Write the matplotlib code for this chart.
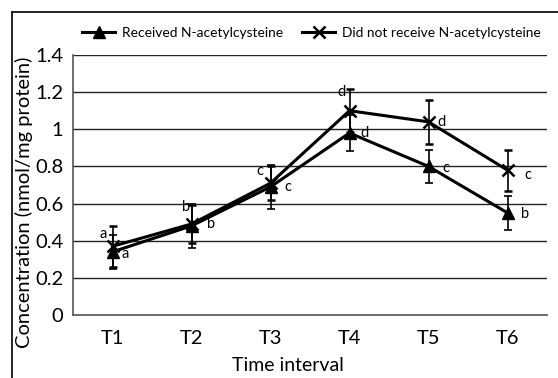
import matplotlib
matplotlib.use("Agg")
import matplotlib.pyplot as plt
from matplotlib.lines import Line2D
import numpy as np

plt.rcParams['font.family'] = ['Lato', 'DejaVu Sans']

times = ['T1', 'T2', 'T3', 'T4', 'T5', 'T6']
received = [0.34, 0.48, 0.69, 0.98, 0.80, 0.55]
received_err = [0.09, 0.12, 0.12, 0.095, 0.09, 0.09]
received_letters = ['a', 'b', 'c', 'd', 'c', 'b']
not_received = [0.37, 0.49, 0.71, 1.10, 1.04, 0.78]
not_received_err = [0.11, 0.10, 0.09, 0.115, 0.12, 0.11]
not_received_letters = ['a', 'b', 'c', 'd', 'd', 'c']

# letter offsets in pixels (dx, dy) relative to the marker
rec_off = [(13, -2), (20, 2), (17, 0), (15, 0), (17, -2), (18, -1)]
nrec_off = [(-9, 12), (-5, 17), (-11, 12), (-8, 19), (13, 0), (20, -5)]

fig = plt.figure(figsize=(5.58, 3.78), dpi=100)
ax = fig.add_axes([73 / 558, 1 - 315 / 378, (547 - 73) / 558, (315 - 55) / 378])

x = np.arange(len(times))
ax.errorbar(x, received, yerr=received_err, color='black', lw=2.2, marker='^',
            ms=8, capsize=3, elinewidth=1.2, capthick=1.2, zorder=3)
ax.errorbar(x, not_received, yerr=not_received_err, color='black', lw=2.2, marker='x',
            ms=8, mew=1.8, capsize=3, elinewidth=1.2, capthick=1.2, zorder=3)

for i in range(len(times)):
    ax.annotate(received_letters[i], (x[i], received[i]),
                xytext=(rec_off[i][0] * 0.72, rec_off[i][1] * 0.72), textcoords='offset points',
                ha='center', va='center', fontsize=10.5)
    ax.annotate(not_received_letters[i], (x[i], not_received[i]),
                xytext=(nrec_off[i][0] * 0.72, nrec_off[i][1] * 0.72), textcoords='offset points',
                ha='center', va='center', fontsize=10.5)

ax.set_xlim(-0.5, len(times) - 0.5)
ax.set_ylim(0, 1.4)
ax.set_yticks([0, 0.2, 0.4, 0.6, 0.8, 1.0, 1.2, 1.4])
ax.set_yticklabels(['0', '0.2', '0.4', '0.6', '0.8', '1', '1.2', '1.4'])
ax.set_xticks(x)
ax.set_xticklabels(times)
ax.tick_params(length=0, labelsize=14.5)
ax.tick_params(axis='y', pad=7)
ax.tick_params(axis='x', pad=11)
ax.yaxis.grid(True, color='#222222', lw=1.0)
ax.set_axisbelow(True)
for s in ['top', 'right']:
    ax.spines[s].set_visible(False)
for s in ['left', 'bottom']:
    ax.spines[s].set_color('#555555')
    ax.spines[s].set_linewidth(1.2)

ax.set_xlabel('Time interval', fontsize=14)
ax.set_ylabel('Concentration (nmol/mg protein)', fontsize=14.5)
ax.xaxis.set_label_coords((288 - 73) / 474, -(357 - 315) / 260)
ax.yaxis.set_label_coords((33 - 73) / 474, (315 - 202) / 260)

handles = [Line2D([], [], color='black', lw=2.2, marker='^', ms=8),
           Line2D([], [], color='black', lw=2.2, marker='x', ms=8, mew=1.8)]
fig.legend(handles, ['Received N-acetylcysteine', 'Did not receive N-acetylcysteine'],
           loc='center left', bbox_to_anchor=(82 / 558, 1 - 33 / 378), ncol=2,
           frameon=False, fontsize=9.9, handlelength=2.4, handletextpad=0.5,
           columnspacing=1.4, borderaxespad=0, borderpad=0)

# outer frame
fig.add_artist(Line2D([12 / 558, 12 / 558], [0, 1 - 12 / 378], color='black', lw=1.2))
fig.add_artist(Line2D([12 / 558, 1], [1 - 12 / 378, 1 - 12 / 378], color='black', lw=1.2))

fig.savefig('out.png', dpi=100)
